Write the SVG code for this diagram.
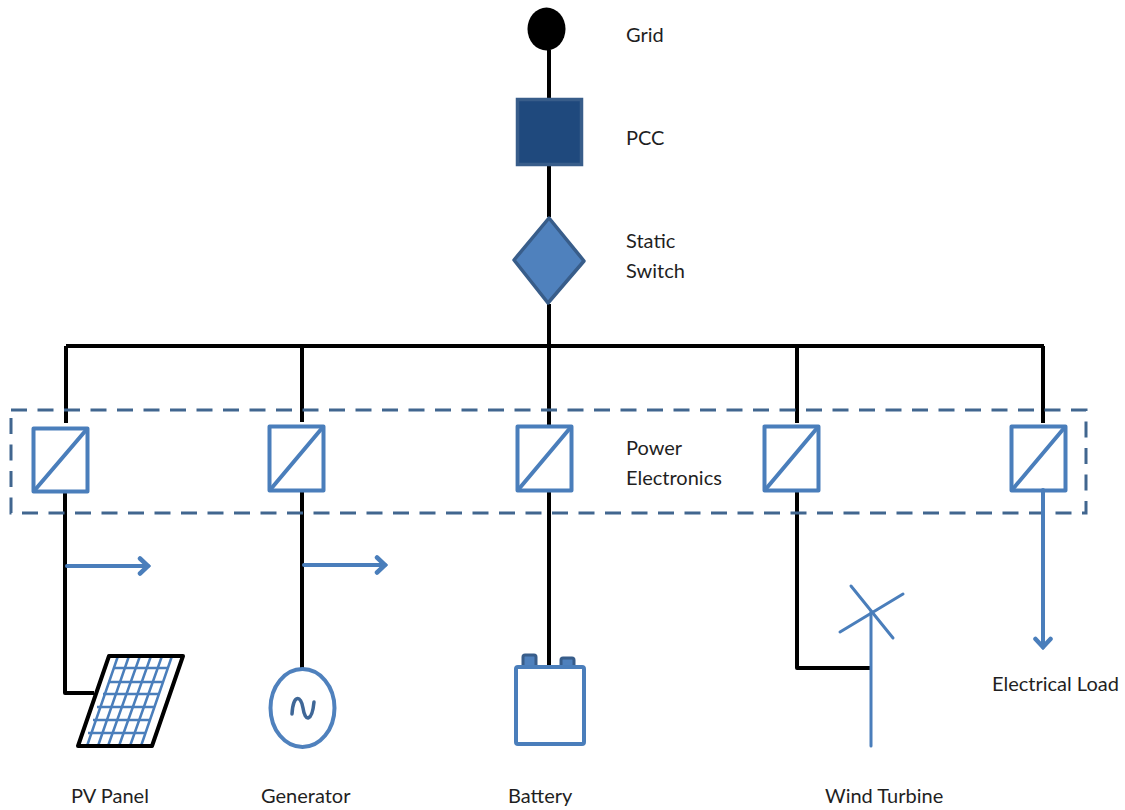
<svg xmlns="http://www.w3.org/2000/svg" width="1125" height="810" viewBox="0 0 1125 810">
<style>
text{font-family:"Lato","Noto Sans","Liberation Sans",sans-serif;font-size:20px;fill:#1f1f1f}
.w{fill:none;stroke:#000;stroke-width:4;stroke-linejoin:round}
.b{fill:none;stroke:#4a7ebb;stroke-width:4;stroke-linejoin:round;stroke-linecap:round}
.t{fill:none;stroke:#4a7ebb;stroke-width:3;stroke-linecap:round}
.c{fill:#fff;stroke:#4a7ebb;stroke-width:4;stroke-linejoin:round}
.g{stroke:#4a7ebb;stroke-width:2.500;fill:none}
</style>
<defs>
<marker id="ah" viewBox="0 0 20 20" refX="17" refY="10" markerWidth="20" markerHeight="20" markerUnits="userSpaceOnUse" orient="auto">
<path d="M9 2.500 L17 10 L9 17.500" fill="none" stroke="#4a7ebb" stroke-width="4.500" stroke-linecap="round" stroke-linejoin="miter"/>
</marker>
</defs>
<g id="connectors">
<path class="w" d="M549 50V98M549 166V217M549 304V425"/>
<path class="w" d="M66 346H1044"/>
<path class="w" d="M66 346V423M302 346V422M797 346V423M1043 346V423"/>
<path class="w" d="M65 489V693H94"/>
<path class="w" d="M302 488V669"/>
<path class="w" d="M549 490V666"/>
<path class="w" d="M797 488V668H871"/>
</g>
<g id="grid"><ellipse cx="546.5" cy="29" rx="19" ry="21.5" fill="#000"/><text x="626" y="41.500">Grid</text></g>
<g id="pcc"><rect x="517.500" y="99.500" width="64" height="65" fill="#1f497d" stroke="#385d8a" stroke-width="3.500"/><text x="626" y="144.500">PCC</text></g>
<g id="static-switch"><path d="M549 218L584 261L548 303L514 260Z" fill="#4f81bd" stroke="#385d8a" stroke-width="3.500" stroke-linejoin="round"/><text x="626" y="247.500">Static</text><text x="626" y="277.500">Switch</text></g>
<g id="power-electronics"><rect x="11" y="410" width="1075" height="103" fill="none" stroke="#41668f" stroke-width="3" stroke-dasharray="16 10.500"/><text x="626" y="454.500">Power</text><text x="626" y="484.500">Electronics</text></g>
<g id="converter-1"><rect class="c" x="33.500" y="428.500" width="54" height="63"/><path class="b" d="M34 491L87 429"/></g>
<g id="converter-2"><rect class="c" x="269.500" y="426.500" width="54" height="64"/><path class="b" d="M270 490L323 427"/></g>
<g id="converter-3"><rect class="c" x="517.500" y="426.500" width="54" height="64"/><path class="b" d="M518 490L571 427"/></g>
<g id="converter-4"><rect class="c" x="764.500" y="426.500" width="54" height="64"/><path class="b" d="M765 490L818 427"/></g>
<g id="converter-5"><rect class="c" x="1011.500" y="426.500" width="54" height="64"/><path class="b" d="M1012 490L1065 427"/></g>
<g id="flows">
<path class="b" d="M67 566H148" marker-end="url(#ah)"/>
<path class="b" d="M304 565H385" marker-end="url(#ah)"/>
<path class="b" d="M1043 490V647" marker-end="url(#ah)"/>
</g>
<g id="pv-panel">
<path d="M109 656H183L152 746H78Z" fill="#fff" stroke="none"/>
<g class="g">
<path d="M118 656L87 746M129 656L98 746M140 656L108 746M151 656L119 746M162 656L130 746M172 656L141 746"/>
<path d="M113 668H168M108 682H162M103 694H158M97 707H155M93 720H150M88 733H145"/>
</g>
<path d="M109 656H183L152 746H78Z" fill="none" stroke="#000" stroke-width="4" stroke-linejoin="round"/>
<text x="71" y="803">PV Panel</text>
</g>
<g id="generator"><ellipse cx="302.500" cy="708" rx="32" ry="39" fill="#fff" stroke="#4f81bd" stroke-width="4"/><path d="M292 714C293 694 301 695 303 708C305 722 312 722 314 702" fill="none" stroke="#3f6797" stroke-width="3.500" stroke-linecap="round"/><text x="261" y="803">Generator</text></g>
<g id="battery">
<rect x="523" y="655" width="13" height="12" rx="2" fill="#4f81bd" stroke="#385d8a" stroke-width="3"/>
<rect x="561" y="658" width="13" height="10" rx="2" fill="#4f81bd" stroke="#385d8a" stroke-width="3"/>
<rect class="c" x="516" y="667" width="68" height="77" rx="2"/>
<text x="508" y="803">Battery</text>
</g>
<g id="wind-turbine">
<path class="t" d="M871 612V746"/>
<path class="t" d="M851 586L893 638M840 632L903 594"/>
<text x="825" y="803">Wind Turbine</text>
</g>
<g id="electrical-load"><text x="992" y="691">Electrical Load</text></g>
</svg>
